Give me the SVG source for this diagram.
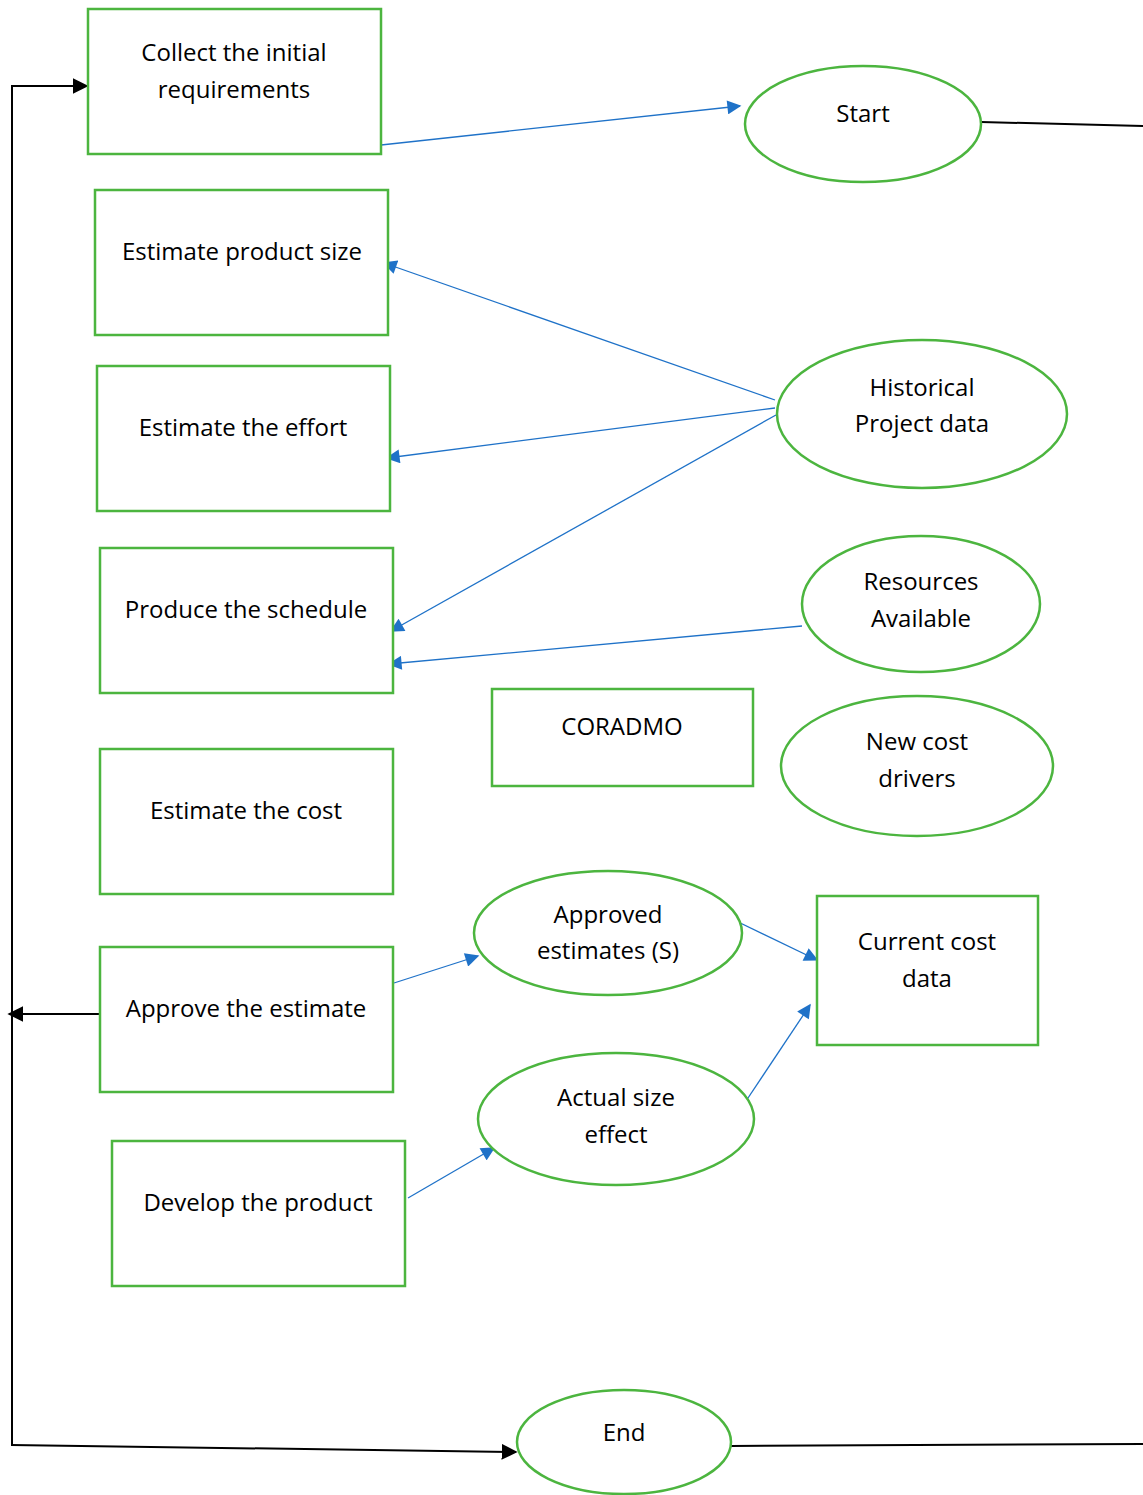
<svg xmlns="http://www.w3.org/2000/svg" width="1143" height="1495" viewBox="0 0 1143 1495">
<style>
.box{fill:#fff;stroke:#4cb53f;stroke-width:2.5}
.t{font-family:"Open Sans","Liberation Sans",sans-serif;font-size:24px;fill:#000;text-anchor:middle}
.bl{stroke:#1f72c8;stroke-width:1.3;fill:none}
.bk{stroke:#000;stroke-width:2;fill:none}
</style>
<defs>
<marker id="ab" viewBox="0 0 10 10" refX="9" refY="5" markerWidth="15" markerHeight="14" markerUnits="userSpaceOnUse" orient="auto"><path d="M0,0 L10,5 L0,10 z" fill="#1f72c8"/></marker>
<marker id="ak" viewBox="0 0 10 10" refX="9" refY="5" markerWidth="16" markerHeight="16" markerUnits="userSpaceOnUse" orient="auto"><path d="M0,0 L10,5 L0,10 z" fill="#000"/></marker>
</defs>
<rect width="1143" height="1495" fill="#fff"/>
<g id="connectors">
<polyline class="bk" points="12,1446 12,86 87,86" marker-end="url(#ak)"/>
<line class="bk" x1="100" y1="1014" x2="9" y2="1014" marker-end="url(#ak)"/>
<line class="bk" x1="11" y1="1445" x2="516" y2="1452" marker-end="url(#ak)"/>
<line class="bk" x1="981" y1="122" x2="1143" y2="126"/>
<line class="bk" x1="731" y1="1446" x2="1143" y2="1444"/>
<line class="bl" x1="381" y1="145" x2="740" y2="106" marker-end="url(#ab)"/>
<line class="bl" x1="775" y1="400" x2="384" y2="263" marker-end="url(#ab)"/>
<line class="bl" x1="775" y1="408" x2="387" y2="458" marker-end="url(#ab)"/>
<line class="bl" x1="776" y1="415" x2="391" y2="631" marker-end="url(#ab)"/>
<line class="bl" x1="802" y1="626" x2="389" y2="664" marker-end="url(#ab)"/>
<line class="bl" x1="394" y1="983" x2="478" y2="956" marker-end="url(#ab)"/>
<line class="bl" x1="732" y1="919" x2="817" y2="960" marker-end="url(#ab)"/>
<line class="bl" x1="746" y1="1101" x2="810" y2="1005" marker-end="url(#ab)"/>
<line class="bl" x1="408" y1="1198" x2="494" y2="1148" marker-end="url(#ab)"/>
</g>
<g id="n-collect"><rect class="box" x="88" y="9" width="293" height="145"/><text class="t" x="234" y="61">Collect the initial</text><text class="t" x="234" y="98">requirements</text></g>
<g id="n-size"><rect class="box" x="95" y="190" width="293" height="145"/><text class="t" x="242" y="260">Estimate product size</text></g>
<g id="n-effort"><rect class="box" x="97" y="366" width="293" height="145"/><text class="t" x="243" y="436">Estimate the effort</text></g>
<g id="n-schedule"><rect class="box" x="100" y="548" width="293" height="145"/><text class="t" x="246" y="618">Produce the schedule</text></g>
<g id="n-cost"><rect class="box" x="100" y="749" width="293" height="145"/><text class="t" x="246" y="819">Estimate the cost</text></g>
<g id="n-approve"><rect class="box" x="100" y="947" width="293" height="145"/><text class="t" x="246" y="1017">Approve the estimate</text></g>
<g id="n-develop"><rect class="box" x="112" y="1141" width="293" height="145"/><text class="t" x="258" y="1211">Develop the product</text></g>
<g id="n-coradmo"><rect class="box" x="492" y="689" width="261" height="97"/><text class="t" x="622" y="735">CORADMO</text></g>
<g id="n-current"><rect class="box" x="817" y="896" width="221" height="149"/><text class="t" x="927" y="950">Current cost</text><text class="t" x="927" y="987">data</text></g>
<g id="n-start"><ellipse class="box" cx="863" cy="124" rx="118" ry="58"/><text class="t" x="863" y="122">Start</text></g>
<g id="n-historical"><ellipse class="box" cx="922" cy="414" rx="145" ry="74"/><text class="t" x="922" y="396">Historical</text><text class="t" x="922" y="432">Project data</text></g>
<g id="n-resources"><ellipse class="box" cx="921" cy="604" rx="119" ry="68"/><text class="t" x="921" y="590">Resources</text><text class="t" x="921" y="627">Available</text></g>
<g id="n-newcost"><ellipse class="box" cx="917" cy="766" rx="136" ry="70"/><text class="t" x="917" y="750">New cost</text><text class="t" x="917" y="787">drivers</text></g>
<g id="n-approved"><ellipse class="box" cx="608" cy="933" rx="134" ry="62"/><text class="t" x="608" y="923">Approved</text><text class="t" x="608" y="959">estimates (S)</text></g>
<g id="n-actual"><ellipse class="box" cx="616" cy="1119" rx="138" ry="66"/><text class="t" x="616" y="1106">Actual size</text><text class="t" x="616" y="1143">effect</text></g>
<g id="n-end"><ellipse class="box" cx="624" cy="1442" rx="107" ry="52"/><text class="t" x="624" y="1441">End</text></g>
</svg>
